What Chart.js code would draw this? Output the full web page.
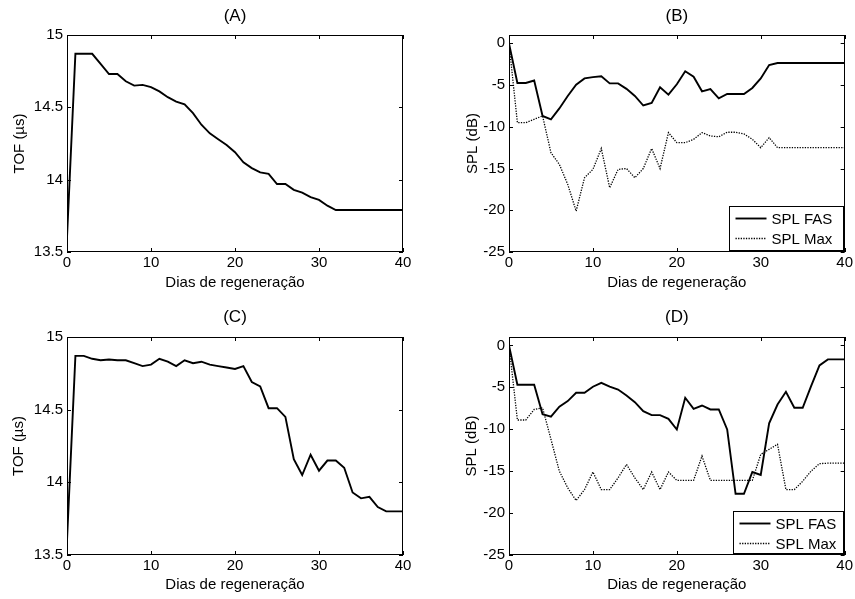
<!DOCTYPE html>
<html>
<head>
<meta charset="utf-8">
<script src="https://cdn.jsdelivr.net/npm/chart.js@4.4.0/dist/chart.umd.min.js"></script>
<style>
  body { margin: 0; background: #fff; width: 855px; height: 599px; position: relative; overflow: hidden; }
  canvas { position: absolute; }
</style>
</head>
<body>
<canvas id="chartA" width="428" height="300" style="left:0;top:0"></canvas>
<canvas id="chartB" width="427" height="300" style="left:428px;top:0"></canvas>
<canvas id="chartC" width="428" height="299" style="left:0;top:300px"></canvas>
<canvas id="chartD" width="427" height="299" style="left:428px;top:300px"></canvas>
<script>
// Dias de regeneração (0..40)
const days = [0,1,2,3,4,5,6,7,8,9,10,11,12,13,14,15,16,17,18,19,20,
              21,22,23,24,25,26,27,28,29,30,31,32,33,34,35,36,37,38,39,40];

// (A) TOF
const tofA = [13.6,14.87,14.87,14.87,14.80,14.73,14.73,14.68,14.65,14.655,14.64,
              14.61,14.57,14.54,14.52,14.46,14.38,14.32,14.28,14.24,14.19,
              14.12,14.08,14.05,14.04,13.97,13.97,13.93,13.91,13.88,13.86,
              13.82,13.79,13.79,13.79,13.79,13.79,13.79,13.79,13.79,13.79];

// (B) SPL
const fasB = [0,-4.75,-4.75,-4.45,-8.7,-9.1,-7.8,-6.3,-4.95,-4.2,-4.05,
              -3.95,-4.8,-4.8,-5.45,-6.3,-7.45,-7.15,-5.27,-6.15,-4.9,
              -3.35,-4.0,-5.75,-5.47,-6.6,-6.07,-6.07,-6.07,-5.35,-4.2,
              -2.6,-2.36,-2.36,-2.36,-2.36,-2.36,-2.36,-2.36,-2.36,-2.36];
const maxB = [0,-9.5,-9.5,-9.1,-8.7,-13.1,-14.5,-16.9,-20.1,-16.1,-15.1,
              -12.6,-17.3,-15.1,-15.0,-16.1,-15.0,-12.6,-15.0,-10.7,-11.9,
              -11.9,-11.5,-10.7,-11.1,-11.2,-10.65,-10.65,-10.85,-11.5,-12.5,
              -11.3,-12.5,-12.5,-12.5,-12.5,-12.5,-12.5,-12.5,-12.5,-12.5];

// (C) TOF
const tofC = [13.6,14.87,14.87,14.85,14.84,14.845,14.84,14.84,14.82,14.80,14.81,
              14.85,14.83,14.80,14.84,14.82,14.83,14.81,14.80,14.79,14.78,
              14.80,14.69,14.66,14.51,14.51,14.45,14.16,14.05,14.19,14.08,
              14.15,14.15,14.10,13.93,13.89,13.90,13.83,13.80,13.80,13.80];

// (D) SPL
const fasD = [0,-4.7,-4.7,-4.7,-8.2,-8.5,-7.3,-6.64,-5.65,-5.65,-4.93,
              -4.46,-4.93,-5.26,-5.97,-6.77,-7.84,-8.32,-8.32,-8.76,-10.03,
              -6.25,-7.56,-7.17,-7.64,-7.64,-10.03,-17.7,-17.7,-15.1,-15.45,
              -9.3,-7.05,-5.53,-7.44,-7.44,-4.86,-2.39,-1.67,-1.67,-1.67];
const maxD = [0,-8.9,-8.9,-7.64,-7.44,-11.2,-15.0,-17.0,-18.5,-17.2,-15.1,
              -17.2,-17.2,-15.8,-14.2,-15.8,-17.2,-15.1,-17.2,-15.1,-16.1,
              -16.1,-16.1,-13.2,-16.1,-16.1,-16.1,-16.1,-16.1,-16.1,-13.0,
              -12.4,-11.8,-17.2,-17.2,-16.2,-15.0,-14.1,-14.05,-14.05,-14.05];

const xTicks = [0, 10, 20, 30, 40];
const tofTicks = [13.5, 14, 14.5, 15];
const splTicks = [-25, -20, -15, -10, -5, 0];

const FONT = '"Liberation Sans", Arial, sans-serif';
Chart.defaults.font.family = FONT;
Chart.defaults.font.size = 15;
Chart.defaults.color = '#000';

const toPoints = (vals) => days.map((d, i) => ({ x: d, y: vals[i] }));

// box round the plot with inward ticks on all four sides
const matlabAxes = {
  id: 'matlabAxes',
  afterDatasetsDraw(chart) {
    const { ctx, chartArea: a, scales: { x, y } } = chart;
    ctx.save();
    ctx.strokeStyle = '#000';
    ctx.lineWidth = 1;
    ctx.beginPath();
    x.ticks.forEach(t => {
      const px = Math.round(x.getPixelForValue(t.value)) + 0.5;
      ctx.moveTo(px, a.bottom); ctx.lineTo(px, a.bottom - 4);
      ctx.moveTo(px, a.top); ctx.lineTo(px, a.top + 4);
    });
    y.ticks.forEach(t => {
      const py = Math.round(y.getPixelForValue(t.value)) + 0.5;
      ctx.moveTo(a.left, py); ctx.lineTo(a.left + 4, py);
      ctx.moveTo(a.right, py); ctx.lineTo(a.right - 4, py);
    });
    ctx.stroke();
    ctx.strokeRect(Math.round(a.left) + 0.5, Math.round(a.top) + 0.5,
                   Math.round(a.right - a.left) - 1, Math.round(a.bottom - a.top) - 1);
    ctx.restore();
  }
};

// legend box drawn inside the lower right corner of the plot
const boxLegend = {
  id: 'boxLegend',
  afterDraw(chart, args, opts) {
    if (!opts.show) return;
    const { ctx, chartArea: a } = chart;
    const left = Math.round(a.right - 2 - opts.w) + 0.5;
    const top = Math.round(a.bottom - 2 - opts.h) + 0.5;
    ctx.save();
    ctx.fillStyle = '#fff';
    ctx.fillRect(left, top, opts.w, opts.h);
    ctx.strokeStyle = '#000';
    ctx.lineWidth = 1;
    ctx.strokeRect(left, top, opts.w, opts.h);
    chart.data.datasets.forEach((ds, i) => {
      const cy = top + 12 + i * 20;
      ctx.beginPath();
      ctx.lineWidth = ds.borderWidth;
      ctx.setLineDash(ds.borderDash || []);
      ctx.moveTo(left + 6, cy);
      ctx.lineTo(left + 37, cy);
      ctx.stroke();
      ctx.setLineDash([]);
      ctx.fillStyle = '#000';
      ctx.font = '15px ' + FONT;
      ctx.textBaseline = 'middle';
      ctx.fillText(ds.label, left + 42, cy + 1);
    });
    ctx.restore();
  }
};

const solid = (label, vals) => ({
  label, data: toPoints(vals), borderColor: '#000', borderWidth: 1.9,
  pointRadius: 0, tension: 0, fill: false
});
const dotted = (label, vals) => ({
  label, data: toPoints(vals), borderColor: '#000', borderWidth: 1.3, borderDash: [1.3, 1.3],
  pointRadius: 0, tension: 0, fill: false
});

function makePanel(id, title, datasets, yTitle, yMin, yMax, yTickList, dims, legend) {
  new Chart(document.getElementById(id), {
    type: 'line',
    data: { datasets },
    options: {
      responsive: false,
      animation: false,
      layout: { padding: { left: 0, right: dims.padRight, top: 0, bottom: 0 } },
      plugins: {
        legend: { display: false },
        tooltip: { enabled: false },
        title: {
          display: true, text: title, fullSize: false, color: '#000',
          font: { size: 17, weight: 'normal', lineHeight: 1.2 },
          padding: { top: dims.titleTop, bottom: dims.titleBottom }
        },
        boxLegend: legend
      },
      scales: {
        x: {
          type: 'linear', min: 0, max: 40,
          afterBuildTicks: (s) => { s.ticks = xTicks.map(v => ({ value: v })); },
          afterFit: (s) => { s.height = dims.xHeight; },
          grid: { display: false, drawTicks: false },
          border: { display: false },
          ticks: { padding: 2, maxRotation: 0, callback: (v) => String(v) },
          title: { display: true, text: 'Dias de regeneração',
                   padding: { top: 0, bottom: dims.xTitleBottom } }
        },
        y: {
          type: 'linear', min: yMin, max: yMax,
          afterBuildTicks: (s) => { s.ticks = yTickList.map(v => ({ value: v })); },
          afterFit: (s) => { s.width = dims.yWidth; },
          grid: { display: false, drawTicks: false },
          border: { display: false },
          ticks: { padding: 4, callback: (v) => String(v) },
          title: { display: true, text: yTitle,
                   padding: { top: dims.yTitleLeft, bottom: 0 } }
        }
      }
    },
    plugins: [matlabAxes, boxLegend]
  });
}

makePanel('chartA', '(A)', [solid('TOF', tofA)], 'TOF (µs)', 13.5, 15, tofTicks,
  { padRight: 25, yWidth: 67, xHeight: 48, titleTop: 6, titleBottom: 8.6, xTitleBottom: 8, yTitleLeft: 11 },
  { show: false });
makePanel('chartB', '(B)', [solid('SPL FAS', fasB), dotted('SPL Max', maxB)], 'SPL (dB)', -25, 1, splTicks,
  { padRight: 10, yWidth: 81, xHeight: 48, titleTop: 6, titleBottom: 8.6, xTitleBottom: 8, yTitleLeft: 36 },
  { show: true, w: 114, h: 44 });
makePanel('chartC', '(C)', [solid('TOF', tofC)], 'TOF (µs)', 13.5, 15, tofTicks,
  { padRight: 25, yWidth: 67, xHeight: 44, titleTop: 7, titleBottom: 9.6, xTitleBottom: 5, yTitleLeft: 10 },
  { show: false });
makePanel('chartD', '(D)', [solid('SPL FAS', fasD), dotted('SPL Max', maxD)], 'SPL (dB)', -25, 1, splTicks,
  { padRight: 10, yWidth: 81, xHeight: 44, titleTop: 7, titleBottom: 9.6, xTitleBottom: 5, yTitleLeft: 35 },
  { show: true, w: 110, h: 42 });
</script>
</body>
</html>
